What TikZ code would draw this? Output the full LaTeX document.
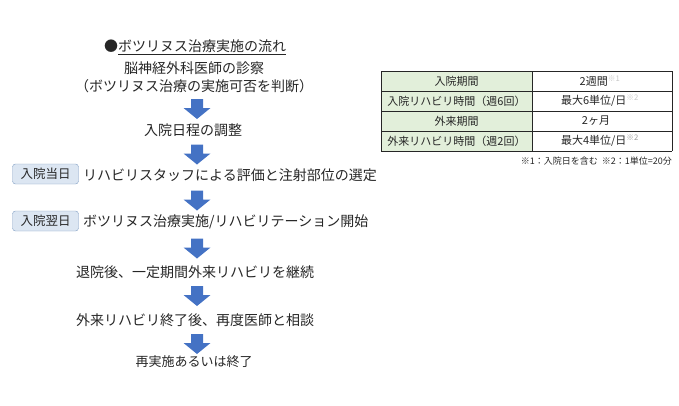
\documentclass[tikz,border=0pt]{standalone}
\usepackage{fontspec}
\setmainfont{Noto Sans CJK JP}
\definecolor{flowblue}{HTML}{4472C4}
\definecolor{tagfill}{HTML}{DCE6F2}
\definecolor{tagline}{HTML}{7F9DC2}
\definecolor{cellgreen}{HTML}{E2EFDA}
\definecolor{inktext}{HTML}{262626}
\newcommand{\note}[2]{\textsuperscript{\color{#1}#2}}
\tikzset{
  flowtext/.style={text=inktext, font=\fontsize{14}{18}\selectfont, align=center, inner sep=0},
  daytag/.style={draw=tagline, fill=tagfill, rounded corners=3pt, minimum width=66pt, minimum height=20pt, inner sep=0, text=inktext, font=\fontsize{12.5}{14}\selectfont},
  celltext/.style={text=inktext, font=\fontsize{11}{13}\selectfont, inner sep=0},
  pics/downarr/.style={code={\fill[flowblue] (-6,-10) -- (6,-10) -- (6,-1) -- (13.5,-1) -- (0,10) -- (-13.5,-1) -- (-6,-1) -- cycle;}}
}
\begin{document}
\begin{tikzpicture}[x=1pt,y=-1pt]
\useasboundingbox (0,0) rectangle (679,405);

\node[flowtext] (title) at (195,47) {●\underline{ボツリヌス治療実施の流れ}};
\node[flowtext] (exam) at (194,77) {脳神経外科医師の診察\\（ボツリヌス治療の実施可否を判断）};
\node[flowtext] (sched) at (193,130) {入院日程の調整};
\node[daytag] (day1) at (45.5,174) {入院当日};
\node[flowtext, anchor=west] (eval) at (83,175) {リハビリスタッフによる評価と注射部位の選定};
\node[daytag] (day2) at (45.5,221) {入院翌日};
\node[flowtext, anchor=west] (start) at (83,222) {ボツリヌス治療実施/リハビリテーション開始};
\node[flowtext] (outpt) at (195,272) {退院後、一定期間外来リハビリを継続};
\node[flowtext] (consult) at (195,320) {外来リハビリ終了後、再度医師と相談};
\node[flowtext, font=\fontsize{13}{15}\selectfont] (finish) at (194,362) {再実施あるいは終了};

\foreach \y [count=\i] in {109,154.5,200.5,248.5,296,344}
  \pic (arr\i) at (197,\y) {downarr};

\fill[cellgreen] (381,71) rectangle (532,151);
\foreach \r in {71,91,111,131,151}
  \draw[line width=0.6pt, inktext] (381,\r) -- (672,\r);
\foreach \c in {381,532,672}
  \draw[line width=0.6pt, inktext] (\c,71) -- (\c,151);

\node[celltext] (k1) at (456.5,81) {入院期間};
\node[celltext] (k2) at (456.5,101) {入院リハビリ時間（週6回）};
\node[celltext] (k3) at (456.5,121) {外来期間};
\node[celltext] (k4) at (456.5,141) {外来リハビリ時間（週2回）};
\node[celltext] (v1) at (600,81) {2週間\note{gray!45}{※1}};
\node[celltext] (v2) at (600,101) {最大6単位/日\note{gray!45}{※2}};
\node[celltext] (v3) at (596,121) {2ヶ月};
\node[celltext] (v4) at (600,141) {最大4単位/日\note{gray!80}{※2}};
\node[celltext, anchor=east, font=\fontsize{9}{11}\selectfont] (fn) at (672,161) {※1：入院日を含む\ \ ※2：1単位=20分};
\end{tikzpicture}
\end{document}
